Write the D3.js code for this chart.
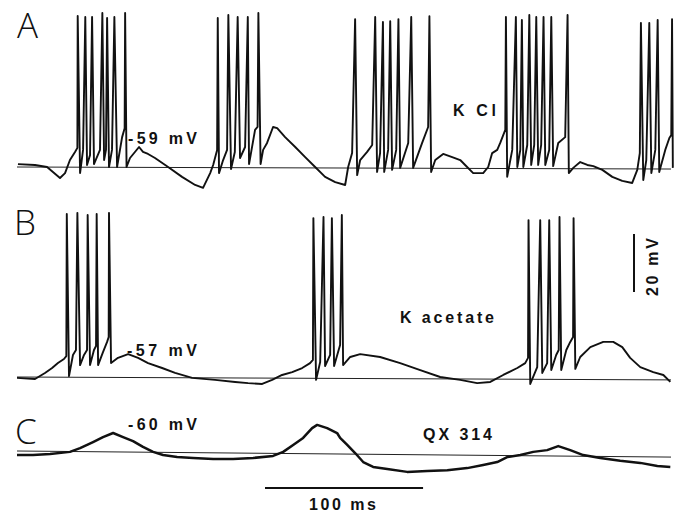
<!DOCTYPE html>
<html><head><meta charset="utf-8">
<script src="https://cdn.jsdelivr.net/npm/d3@7"></script>
<style>
html,body{margin:0;padding:0;background:#fff;}
svg{display:block;}
.lbl{font-family:"Liberation Sans",Arial,sans-serif;font-weight:bold;font-size:16px;fill:#111;}
.panel{font-family:"Open Sans","Lato",sans-serif;font-weight:300;font-size:35px;fill:#111;}
</style></head>
<body>
<script>
// ---- Data (time in ms, membrane potential in mV) ----
const panels = ["A", "B", "C"];
const conditions = ["K Cl", "K acetate", "QX 314"];
const restLabels = ["-59 mV", "-57 mV", "-60 mV"];
const restPotential = [-59, -57, -60];
// reference (resting) line potential at start and end of sweep
const aRest = [-59, -59.7];
const bRest = [-57, -58.0];
const cRest = [-60, -62.1];

const aTime = [0.6,11.4,19.0,27.2,30.4,33.5,36.7,38.2,38.4,39.9,41.8,43.2,44.3,46.2,47.5,48.7,52.5,54.0,55.1,56.3,57.0,58.2,60.1,61.6,63.3,66.5,68.1,68.4,69.3,71.5,77.2,79.7,82.9,87.3,95.6,104.4,112.7,117.7,122.2,124.1,126.6,127.0,127.8,130.4,132.9,133.7,135.4,137.8,139.6,141.1,144.3,146.0,146.8,150.6,152.2,152.7,154.1,155.7,158.2,162.0,164.6,169.6,176.0,182.3,188.6,194.9,201.3,207.6,209.5,212.0,213.9,215.2,217.1,221.5,224.7,226.6,227.8,229.7,231.5,232.3,234.8,236.1,237.3,239.9,241.3,242.4,247.5,249.4,250.6,256.3,260.1,260.9,262.0,264.6,269.6,275.3,280.4,283.5,288.6,294.9,298.1,300.6,303.8,305.7,307.6,308.9,309.3,310.1,313.3,315.6,316.5,318.4,319.4,320.3,322.8,324.1,325.3,327.2,328.5,329.7,331.6,333.1,334.2,336.7,338.0,339.2,342.4,346.8,348.3,349.1,351.9,356.3,360.8,364.6,370.3,376.6,382.9,389.2,392.4,394.0,394.7,396.2,398.1,400.0,401.3,403.8,405.3,406.3,410.1,412.7,413.9,414.4,414.9];
const aVolt = [-58.0,-58.3,-59.0,-62.8,-61.1,-56.6,-53.8,-52.4,-6.9,-61.1,-53.1,-7.3,-58.3,-54.9,-7.3,-58.0,-53.1,-5.9,-56.6,-53.1,-7.6,-59.0,-53.1,-7.3,-59.0,-48.7,-45.6,-5.9,-59.0,-55.9,-52.1,-53.8,-54.5,-55.9,-59.0,-62.4,-65.2,-66.2,-61.1,-58.3,-53.1,-7.6,-61.1,-56.6,-53.1,-6.6,-59.7,-53.8,-7.3,-55.9,-52.1,-7.3,-58.0,-46.2,-45.2,-5.9,-58.0,-53.1,-50.7,-45.2,-45.6,-48.7,-52.1,-55.6,-59.0,-62.4,-64.2,-65.2,-59.0,-54.2,-8.0,-61.8,-56.6,-53.8,-51.4,-7.3,-60.7,-54.2,-9.0,-60.7,-53.1,-8.7,-60.0,-53.1,-8.0,-59.3,-50.7,-7.3,-59.3,-50.7,-45.2,-7.0,-60.7,-56.6,-54.5,-55.6,-56.6,-58.3,-61.1,-61.1,-59.0,-54.2,-53.1,-50.7,-48.0,-46.2,-7.3,-62.4,-53.1,-7.3,-59.0,-53.1,-8.3,-59.0,-51.4,-6.6,-58.3,-51.4,-7.3,-58.3,-51.4,-7.3,-58.3,-53.1,-7.3,-58.7,-50.7,-48.7,-6.6,-61.1,-59.3,-57.3,-58.3,-58.7,-60.0,-62.4,-63.8,-64.5,-60.0,-54.2,-9.3,-63.5,-56.6,-9.3,-61.1,-53.1,-8.3,-60.7,-53.1,-49.0,-48.0,-8.0,-59.3];

const bTime = [0,11.4,17.7,22.2,25.9,29.7,31.2,31.5,32.9,35.4,37.3,38.2,39.9,42.4,44.3,44.7,46.2,48.7,50.0,50.4,51.3,54.4,57.0,58.0,58.2,59.5,63.9,70.3,76.6,82.9,91.8,100.0,110.8,125.3,138.0,146.2,155.1,161.4,167.7,174.1,180.4,185.4,187.2,187.5,189.2,191.8,193.9,194.9,198.1,199.2,200.6,204.4,205.5,206.3,210.8,217.1,229.7,242.4,255.1,267.7,280.4,291.1,299.4,307.6,316.5,321.5,323.3,323.6,324.7,329.1,331.0,332.3,335.4,336.7,338.0,341.1,342.7,343.2,344.3,347.5,350.0,351.8,352.1,353.2,356.3,362.7,370.9,377.2,382.9,387.9,394.3,402.5,408.9,413.3];
const bVolt = [-57.3,-57.7,-55.6,-53.9,-52.2,-50.8,-49.8,-0.8,-56.7,-49.4,-47.7,-0.4,-52.9,-49.4,-47.7,-1.1,-52.9,-47.7,-46.3,-0.8,-52.9,-48.4,-44.9,-43.2,-0.4,-52.2,-50.4,-49.1,-50.4,-52.2,-53.9,-55.6,-57.3,-58.0,-58.7,-59.1,-59.4,-58.0,-56.3,-55.3,-53.9,-52.2,-51.1,-2.2,-58.0,-51.8,-1.8,-53.2,-49.4,-2.2,-53.2,-46.0,-1.1,-52.9,-50.1,-49.1,-50.1,-52.2,-54.6,-57.0,-58.0,-59.1,-58.7,-56.3,-53.9,-52.2,-50.4,-2.9,-59.4,-53.6,-2.9,-55.6,-52.2,-2.9,-54.6,-49.4,-47.7,-1.8,-54.6,-47.7,-44.9,-43.2,-2.2,-54.2,-50.1,-46.7,-44.9,-44.9,-46.7,-50.4,-53.6,-55.3,-56.3,-58.7];

const cTime = [0,10.1,20.9,33.5,39.9,48.1,54.4,60.8,67.1,73.4,79.7,86.1,92.4,101.3,111.4,124.1,136.7,149.4,162.0,168.4,174.7,181.0,186.7,189.9,196.2,202.5,204.4,208.9,213.9,219.0,225.3,234.2,246.8,259.5,272.2,284.8,294.9,303.8,310.1,318.4,326.6,335.4,342.4,350.0,358.2,369.0,381.6,394.3,405.1,413.3];
const cVolt = [-61.4,-61.4,-61.0,-60.3,-59.0,-56.9,-55.2,-53.8,-55.2,-56.6,-58.6,-60.3,-61.4,-62.1,-62.4,-62.8,-62.8,-62.4,-61.7,-60.3,-57.9,-55.5,-52.1,-51.0,-52.1,-53.8,-55.5,-57.9,-60.7,-63.8,-65.5,-66.2,-67.2,-66.9,-66.6,-65.9,-64.8,-63.8,-62.1,-61.4,-60.3,-59.7,-58.3,-59.7,-61.4,-62.4,-63.4,-64.1,-65.2,-65.5];

const sweepMs = [0, 415];
const scaleBarMs = 100, scaleBarMv = 20;
const scaleBarLabels = ["100 ms", "20 mV"];

// ---- Drawing ----
const W = 680, H = 512;
const svg = d3.select("body").append("svg").attr("width", W).attr("height", H);

const x = d3.scaleLinear().domain(sweepMs).range([17, 673]);
const pxPerMv = 2.9;
function yScale(rest, base) {
  return d3.scaleLinear().domain([rest, rest + 20]).range([base, base - 20 * pxPerMv]);
}
const yA = yScale(restPotential[0], 167);
const yB = yScale(restPotential[1], 377);
const yC = yScale(restPotential[2], 451);

function drawTrace(ts, vs, rest, y, width) {
  const pts = ts.map((t, i) => [t, vs[i]]);
  svg.append("line")
    .attr("x1", x(sweepMs[0])).attr("x2", x(sweepMs[1]) - 2)
    .attr("y1", y(rest[0])).attr("y2", y(rest[1]))
    .attr("stroke", "#222").attr("stroke-width", 1);
  svg.append("path")
    .attr("d", d3.line().x(d => x(d[0])).y(d => y(d[1]))(pts))
    .attr("fill", "none").attr("stroke", "#111")
    .attr("stroke-width", width).attr("stroke-linejoin", "round");
}
drawTrace(aTime, aVolt, aRest, yA, 1.9);
drawTrace(bTime, bVolt, bRest, yB, 1.9);
drawTrace(cTime, cVolt, cRest, yC, 2.5);

// panel letters
const letterPos = [[17, 38], [14, 235], [15, 444]];
panels.forEach((p, i) => {
  svg.append("text").attr("class", "panel").attr("x", letterPos[i][0]).attr("y", letterPos[i][1]).text(p);
});

// resting potential labels
const restPos = [[128, 144, 69], [127, 356, 70], [128, 430, 69]];
restLabels.forEach((t, i) => {
  svg.append("text").attr("class", "lbl").attr("x", restPos[i][0]).attr("y", restPos[i][1])
    .attr("textLength", restPos[i][2]).attr("lengthAdjust", "spacing").text(t);
});

// condition labels
const condPos = [[453, 116, 43], [400, 323, 94], [423, 440, 69]];
conditions.forEach((t, i) => {
  svg.append("text").attr("class", "lbl").attr("x", condPos[i][0]).attr("y", condPos[i][1])
    .attr("textLength", condPos[i][2]).attr("lengthAdjust", "spacing").text(t);
});

// scale bars
const tb0 = 265, tbY = 488;
svg.append("line").attr("x1", tb0).attr("x2", tb0 + x(scaleBarMs) - x(0))
  .attr("y1", tbY).attr("y2", tbY).attr("stroke", "#111").attr("stroke-width", 2);
svg.append("text").attr("class", "lbl").attr("x", 309).attr("y", 510)
  .attr("textLength", 67).attr("lengthAdjust", "spacing").text(scaleBarLabels[0]);

const vbX = 634, vbBottom = 292;
svg.append("line").attr("x1", vbX).attr("x2", vbX)
  .attr("y1", vbBottom).attr("y2", vbBottom - (yB(restPotential[1]) - yB(restPotential[1] + scaleBarMv)))
  .attr("stroke", "#111").attr("stroke-width", 2);
svg.append("text").attr("class", "lbl")
  .attr("transform", "translate(658,296) rotate(-90)")
  .attr("textLength", 58).attr("lengthAdjust", "spacing").text(scaleBarLabels[1]);
</script>
</body></html>
